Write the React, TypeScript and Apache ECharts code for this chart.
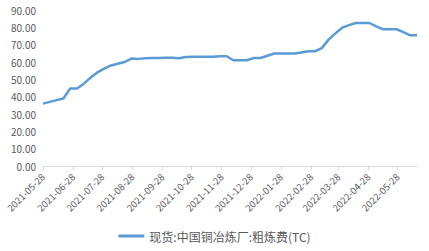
import React, { useEffect, useRef } from "react";
import * as echarts from "echarts";

// Weekly TC quotes, first Friday of the series and one value per week
const startDate = "2021-05-28";
const tcValues = [
  36.0, 37.0, 38.0, 38.9, 44.7, 44.7, 47.5, 51.0, 54.0, 56.2,
  58.0, 59.0, 60.0, 62.0, 61.8, 62.2, 62.3, 62.3, 62.5, 62.5,
  62.2, 62.9, 63.0, 63.0, 63.1, 63.1, 63.3, 63.3, 61.0, 61.0,
  61.0, 62.3, 62.3, 63.6, 64.9, 64.9, 64.9, 64.9, 65.5, 66.2,
  66.2, 68.0, 72.9, 76.5, 79.8, 81.3, 82.5, 82.5, 82.5, 80.5,
  78.9, 78.9, 78.9, 77.2, 75.4, 75.4,
];
const tickDates = [
  "2021-05-28", "2021-06-28", "2021-07-28", "2021-08-28", "2021-09-28",
  "2021-10-28", "2021-11-28", "2021-12-28", "2022-01-28", "2022-02-28",
  "2022-03-28", "2022-04-28", "2022-05-28",
];
const seriesName = "现货:中国铜冶炼厂:粗炼费(TC)";

const DAY = 24 * 3600 * 1000;
const toTs = (d: string) => {
  const [y, m, dd] = d.split("-").map(Number);
  return Date.UTC(y, m - 1, dd);
};
const pad = (n: number) => (n < 10 ? "0" + n : "" + n);
const fmt = (ts: number) => {
  const d = new Date(ts);
  return `${d.getUTCFullYear()}-${pad(d.getUTCMonth() + 1)}-${pad(d.getUTCDate())}`;
};

export default function App() {
  const ref = useRef<HTMLDivElement>(null);
  useEffect(() => {
    if (!ref.current) return;
    const chart = echarts.init(ref.current, null, { renderer: "svg" });
    const start = toTs(startDate);
    const points = tcValues.map((v, i) => [start + i * 7 * DAY, v]);
    const ticks = tickDates.map(toTs);
    const font = "'Noto Sans CJK SC', 'Noto Sans', sans-serif";
    chart.setOption({
      animation: false,
      textStyle: { fontFamily: font },
      grid: { left: 43, right: 12, top: 10, bottom: 85, containLabel: false },
      xAxis: {
        type: "value",
        min: start,
        max: start + (tcValues.length - 1) * 7 * DAY,
        splitLine: { show: false },
        axisLine: { lineStyle: { color: "#d9d9d9", width: 1 } },
        axisTick: {
          show: true,
          customValues: ticks,
          length: 4,
          lineStyle: { color: "#d9d9d9" },
        },
        axisLabel: {
          customValues: ticks,
          rotate: 45,
          color: "#595959",
          fontSize: 9.5,
          fontFamily: font,
          margin: 9,
          hideOverlap: false,
          formatter: (v: number) => fmt(v),
        },
      },
      yAxis: {
        type: "value",
        min: 0,
        max: 90,
        interval: 10,
        splitLine: { show: false },
        axisLine: { show: false },
        axisTick: { show: false },
        axisLabel: {
          color: "#595959",
          fontSize: 10,
          fontFamily: font,
          margin: 7,
          formatter: (v: number) => v.toFixed(2),
        },
      },
      legend: {
        bottom: 4,
        left: "center",
        itemWidth: 26,
        itemHeight: 3,
        icon: "rect",
        itemGap: 5,
        textStyle: { color: "#595959", fontSize: 12, fontFamily: font },
        data: [seriesName],
      },
      series: [
        {
          name: seriesName,
          type: "line",
          data: points,
          showSymbol: false,
          symbol: "none",
          lineStyle: { color: "#5b9bd5", width: 2.5 },
          itemStyle: { color: "#5b9bd5" },
        },
      ],
    });
    return () => chart.dispose();
  }, []);
  return (
    <div
      ref={ref}
      style={{ position: "fixed", left: 0, top: 0, width: 429, height: 251, background: "#fff" }}
    />
  );
}
